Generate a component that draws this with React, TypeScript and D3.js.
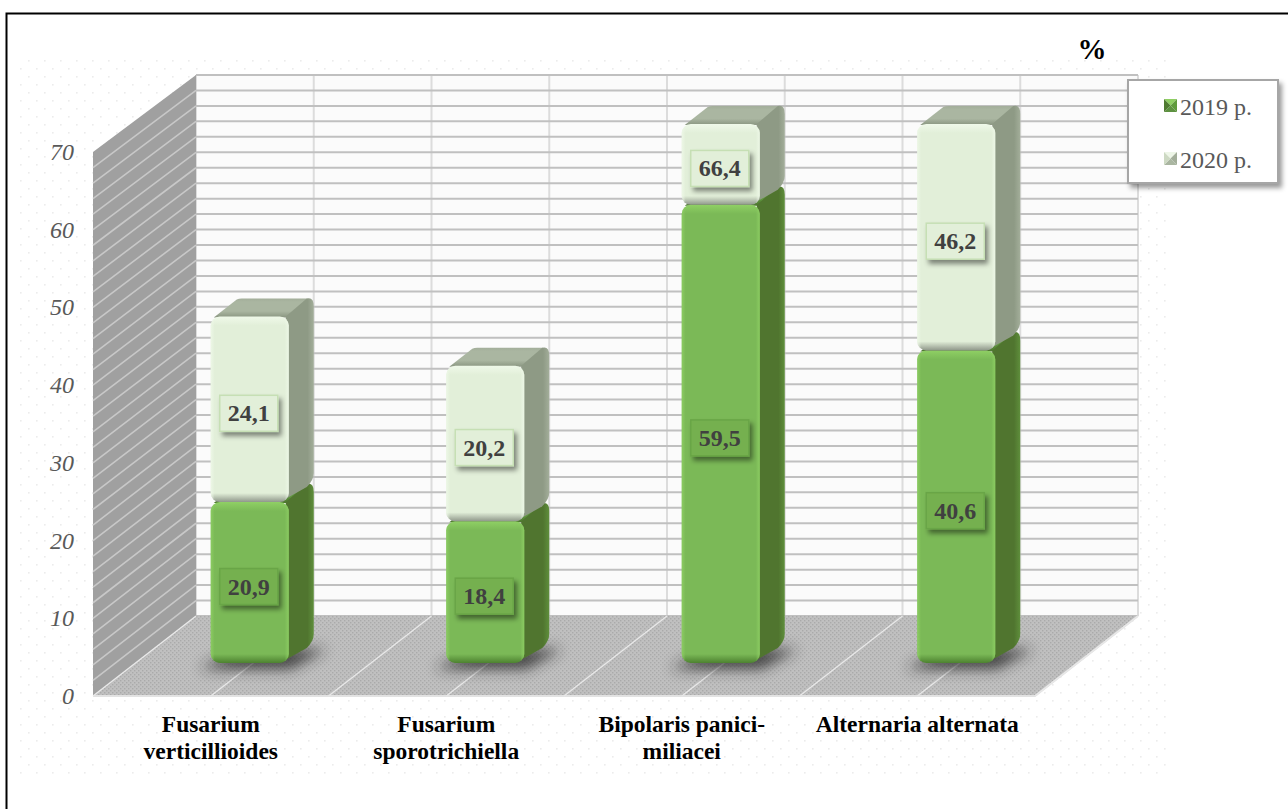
import React from "react";
import * as d3 from "d3";

// Fungal species incidence by year, stacked on a pseudo-3D column chart.
const categories = [
  ["Fusarium", "verticillioides"],
  ["Fusarium", "sporotrichiella"],
  ["Bipolaris panici-", "miliacei"],
  ["Alternaria alternata"],
];
const categoryKeys = ["fv", "fs", "bp", "aa"];
const values2019 = [20.9, 18.4, 59.5, 40.6];
const values2020 = [24.1, 20.2, 66.4, 46.2];
const labels2019 = ["20,9", "18,4", "59,5", "40,6"];
const labels2020 = ["24,1", "20,2", "66,4", "46,2"];
const yTicks = [0, 10, 20, 30, 40, 50, 60, 70];
const legendNames = ["2019 р.", "2020 р."];

const W = 1288;
const H = 809;
const SERIF = "'Liberation Serif', 'Times New Roman', serif";

// Chart box: front plane of the floor and the depth offset of the walls.
const FRONT_L = 93;
const FRONT_R = 1035;
const DEPTH_X = 103;
const BAR_W = 78;
const BAR_DX = 25;
const BAR_DY = 18;
const RADIUS = 9;

const yAxis = d3.scaleLinear().domain([0, 70]).range([696, 152]);
const yBack = d3.scaleLinear().domain([0, 70]).range([616, 75]);
const yBar = d3.scaleLinear().domain([0, 70]).range([663, 124]).clamp(true);
const xBand = d3.scaleBand<string>().domain(categoryKeys).range([FRONT_L, FRONT_R]);
const gridValues = d3.range(0, 71, 2);
const divisions = d3.range(0, 9).map((i) => FRONT_L + (i * (FRONT_R - FRONT_L)) / 8);

const stackRows = categoryKeys.map((k, i) => ({ key: k, a: values2019[i], b: values2020[i] }));
const stacked = d3.stack<any>().keys(["a", "b"])(stackRows);

const palettes = [
  {
    front: "#7bb957",
    side: "#50752f",
    sideHi: "#5f8f3c",
    top: "#5f963e",
    topHi: "#4f7a31",
    boxFill: "#74b04f",
    boxStroke: "#69a546",
    hi: "#8fd064",
    lo: "#4d8230",
  },
  {
    front: "#e2efd9",
    side: "#8e9a85",
    sideHi: "#a3ae9a",
    top: "#aab6a1",
    topHi: "#8f9b86",
    boxFill: "#e2efd9",
    boxStroke: "#c6dfb4",
    hi: "#eff9e9",
    lo: "#8f978a",
  },
];

function frontGradientStops(height: number, pal: any) {
  const t = (px: number) => Math.min(1, px / height);
  return (
    <>
      <stop offset={0} stopColor={pal.hi} />
      <stop offset={t(9)} stopColor={pal.front} />
      <stop offset={1 - t(9)} stopColor={pal.front} />
      <stop offset={1} stopColor={pal.lo} />
    </>
  );
}

function Segment({ id, x, yT, yB, pal }: any) {
  const x1 = x + BAR_W;
  const r = RADIUS;
  const sidePath = [
    `M${x1 - 3},${yT}`,
    `L${x1 + BAR_DX - 7},${yT - BAR_DY}`,
    `Q${x1 + BAR_DX},${yT - BAR_DY - 2} ${x1 + BAR_DX},${yT - BAR_DY + 8}`,
    `L${x1 + BAR_DX},${yB - BAR_DY - 11}`,
    `Q${x1 + BAR_DX},${yB - BAR_DY - 4} ${x1 + BAR_DX - 7},${yB - BAR_DY + 3}`,
    `L${x1 - 7},${yB - 1}`,
    "Z",
  ].join("");
  const topPath = [
    `M${x + 3},${yT + 1}`,
    `L${x + BAR_DX + 1},${yT - BAR_DY + 1}`,
    `Q${x + BAR_DX + 3},${yT - BAR_DY} ${x + BAR_DX + 6},${yT - BAR_DY}`,
    `L${x1 + BAR_DX - 6},${yT - BAR_DY}`,
    `L${x1 - 2},${yT + 1}`,
    "Z",
  ].join("");
  return (
    <g>
      <defs>
        <linearGradient id={`${id}-v`} gradientUnits="userSpaceOnUse" x1={0} x2={0} y1={yT} y2={yB}>
          {frontGradientStops(yB - yT, pal)}
        </linearGradient>
        <linearGradient id={`${id}-h`} gradientUnits="userSpaceOnUse" x1={x} x2={x + BAR_W} y1={0} y2={0}>
          <stop offset={0} stopColor={pal.hi} stopOpacity={0.8} />
          <stop offset={0.05} stopColor={pal.hi} stopOpacity={0} />
          <stop offset={0.95} stopColor={pal.hi} stopOpacity={0} />
          <stop offset={1} stopColor={pal.hi} stopOpacity={0.8} />
        </linearGradient>
        <linearGradient id={`${id}-t`} gradientUnits="userSpaceOnUse" x1={0} x2={0} y1={yT - BAR_DY} y2={yT}>
          <stop offset={0} stopColor={pal.sideHi} />
          <stop offset={0.2} stopColor={pal.top} />
          <stop offset={0.7} stopColor={pal.top} />
          <stop offset={1} stopColor={pal.topHi} />
        </linearGradient>
        <linearGradient id={`${id}-s`} gradientUnits="userSpaceOnUse" x1={x1} x2={x1 + BAR_DX} y1={0} y2={0}>
          <stop offset={0} stopColor={pal.side} />
          <stop offset={0.75} stopColor={pal.side} />
          <stop offset={1} stopColor={pal.sideHi} />
        </linearGradient>
      </defs>
      <path d={topPath} fill={`url(#${id}-t)`} />
      <path d={sidePath} fill={`url(#${id}-s)`} />
      <rect x={x} y={yT} width={BAR_W} height={yB - yT} rx={r} ry={r} fill={`url(#${id}-v)`} />
      <rect x={x} y={yT} width={BAR_W} height={yB - yT} rx={r} ry={r} fill={`url(#${id}-h)`} />
    </g>
  );
}

function ValueLabel({ cx, cy, text, pal }: any) {
  const w = 58;
  const h = 36;
  return (
    <g>
      <rect
        x={cx - w / 2}
        y={cy - h / 2}
        width={w}
        height={h}
        fill={pal.boxFill}
        stroke={pal.boxStroke}
        strokeWidth={1.5}
        filter="url(#labelShadow)"
      />
      <text
        x={cx}
        y={cy + 8}
        textAnchor="middle"
        fontFamily={SERIF}
        fontWeight="bold"
        fontSize={24}
        fill="#404040"
      >
        {text}
      </text>
    </g>
  );
}

function LegendMarker({ x, y, colors }: any) {
  const s = 13;
  const cx = x + s / 2;
  const cy = y + s / 2;
  const corners = [
    [x, y],
    [x + s, y],
    [x + s, y + s],
    [x, y + s],
  ];
  return (
    <g>
      {corners.map((c, i) => {
        const n = corners[(i + 1) % 4];
        return <path key={i} d={`M${c[0]},${c[1]}L${n[0]},${n[1]}L${cx},${cy}Z`} fill={colors[i]} />;
      })}
    </g>
  );
}

export default function App() {
  const backL = FRONT_L + DEPTH_X;
  const backR = FRONT_R + DEPTH_X;
  const floorPath = `M${FRONT_L},${yAxis(0)}L${FRONT_R},${yAxis(0)}L${backR},${yBack(0)}L${backL},${yBack(0)}Z`;
  const leftWall = `M${FRONT_L},${yAxis(0)}L${FRONT_L},${yAxis(70)}L${backL},${yBack(70)}L${backL},${yBack(0)}Z`;

  return (
    <svg
      width={W}
      height={H}
      viewBox={`0 0 ${W} ${H}`}
      style={{ position: "fixed", left: 0, top: 0, background: "#fff" }}
    >
      <defs>
        <pattern id="dots" patternUnits="userSpaceOnUse" width={16} height={16}>
          <rect x={4} y={4} width={1.6} height={1.6} fill="#ececec" />
          <rect x={12} y={12} width={1.6} height={1.6} fill="#ececec" />
        </pattern>
        <pattern id="floorTex" patternUnits="userSpaceOnUse" width={4} height={4}>
          <rect width={4} height={4} fill="#c0c0c0" />
          <rect x={0} y={0} width={1.4} height={1.4} fill="#aaaaaa" />
          <rect x={2} y={2} width={1.4} height={1.4} fill="#aaaaaa" />
        </pattern>
        <filter id="blur" x="-40%" y="-100%" width="180%" height="300%">
          <feGaussianBlur stdDeviation={7} />
        </filter>
        <filter id="labelShadow" x="-20%" y="-20%" width="150%" height="160%">
          <feDropShadow dx={3} dy={4} stdDeviation={2.5} floodColor="#000" floodOpacity={0.45} />
        </filter>
        <filter id="legendShadow" x="-10%" y="-10%" width="125%" height="130%">
          <feDropShadow dx={3} dy={4} stdDeviation={2.5} floodColor="#000" floodOpacity={0.4} />
        </filter>
      </defs>

      {/* Dotted backdrop and page frame */}
      <rect x={16} y={58} width={1154} height={716} fill="url(#dots)" />
      <path d={`M${W},13.5H6.5V${H}`} fill="none" stroke="#000" strokeWidth={2} />

      {/* Back wall */}
      <rect x={backL} y={yBack(70)} width={backR - backL} height={yBack(0) - yBack(70)} fill="#fbfbfb" />
      {divisions.map((d) => (
        <line
          key={d}
          x1={d + DEPTH_X}
          x2={d + DEPTH_X}
          y1={yBack(70)}
          y2={yBack(0)}
          stroke="#dcdcdc"
          strokeWidth={2}
        />
      ))}
      {gridValues.map((v) => (
        <line
          key={v}
          x1={backL}
          x2={backR}
          y1={yBack(v)}
          y2={yBack(v)}
          stroke="#c0c0c0"
          strokeWidth={2}
        />
      ))}

      {/* Left wall */}
      <path d={leftWall} fill="#a0a0a0" />
      {gridValues.slice(1, -1).map((v) => (
        <line
          key={v}
          x1={FRONT_L}
          x2={backL}
          y1={yAxis(v)}
          y2={yBack(v)}
          stroke="#c8c8c8"
          strokeWidth={1.6}
        />
      ))}

      {/* Floor */}
      <path d={floorPath} fill="url(#floorTex)" />
      <path d={`M${FRONT_L},${yAxis(0)}H${FRONT_R}L${backR},${yBack(0)}`} fill="none" stroke="#e2e2e2" strokeWidth={2} />
      {divisions.map((d) => (
        <line
          key={d}
          x1={d}
          x2={d + DEPTH_X}
          y1={yAxis(0)}
          y2={yBack(0)}
          stroke="#e8e8e8"
          strokeWidth={1.4}
        />
      ))}

      {/* Axis values */}
      {yTicks.map((t) => (
        <text
          key={t}
          x={74}
          y={yAxis(t) + 8}
          textAnchor="end"
          fontFamily={SERIF}
          fontStyle="italic"
          fontSize={24}
          fill="#595959"
        >
          {t}
        </text>
      ))}

      {/* Columns */}
      {categoryKeys.map((k, i) => {
        const x = (xBand(k) as number) + xBand.bandwidth() / 2;
        const y0 = yBar(0);
        return (
          <g key={k}>
            <path
              d={`M${x - 12},${y0 + 6}L${x + BAR_W + 2},${y0 + 6}L${x + BAR_W + 38},${y0 - 14}L${x + 30},${y0 - 14}Z`}
              fill="#262626"
              opacity={0.8}
              filter="url(#blur)"
            />
            {stacked.map((layer, s) => (
              <Segment
                key={s}
                id={`seg-${k}-${s}`}
                x={x}
                yT={yBar(layer[i][1])}
                yB={yBar(layer[i][0])}
                pal={palettes[s]}
              />
            ))}
          </g>
        );
      })}

      {/* Value labels */}
      {categoryKeys.map((k, i) => {
        const x = (xBand(k) as number) + xBand.bandwidth() / 2 + BAR_W / 2 - 1;
        return stacked.map((layer, s) => (
          <ValueLabel
            key={`${k}-${s}`}
            cx={x}
            cy={(yBar(layer[i][0]) + yBar(layer[i][1])) / 2 + 4}
            text={(s === 0 ? labels2019 : labels2020)[i]}
            pal={palettes[s]}
          />
        ));
      })}

      {/* Category names */}
      {categoryKeys.map((k, i) => {
        const cx = (xBand(k) as number) + xBand.bandwidth() / 2;
        return (
          <text
            key={k}
            textAnchor="middle"
            fontFamily={SERIF}
            fontWeight="bold"
            fontSize={23.5}
            fill="#000"
          >
            {categories[i].map((line, j) => (
              <tspan key={j} x={cx} y={732 + j * 27}>
                {line}
              </tspan>
            ))}
          </text>
        );
      })}

      {/* Unit */}
      <text x={1092} y={59} textAnchor="middle" fontFamily={SERIF} fontWeight="bold" fontSize={29} fill="#000">
        %
      </text>

      {/* Legend */}
      <rect x={1128} y={80} width={150} height={103} fill="#fff" stroke="#a6a6a6" strokeWidth={2} filter="url(#legendShadow)" />
      <LegendMarker x={1164} y={99} colors={["#8fce63", "#5f9a3c", "#5d9140", "#4f7a31"]} />
      <LegendMarker x={1164} y={152} colors={["#eef6e8", "#a3ae9a", "#aab6a1", "#cdd9c3"]} />
      {legendNames.map((name, i) => (
        <text key={name} x={1180} y={115 + i * 53} fontFamily={SERIF} fontSize={24} fill="#595959">
          {name}
        </text>
      ))}
    </svg>
  );
}
